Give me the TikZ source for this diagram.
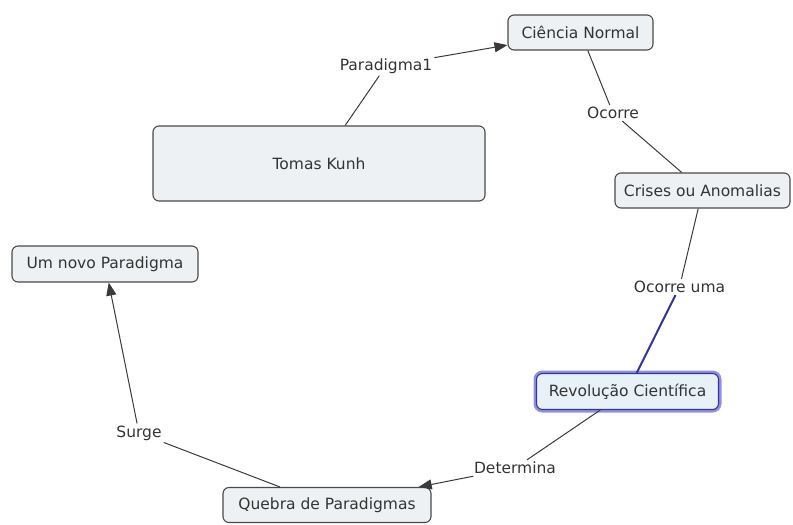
\documentclass[tikz,border=0pt]{standalone}
\usepackage{fontspec}
\setmainfont{DejaVu Sans}
\usepackage{tikz}
\usetikzlibrary{arrows.meta}
\definecolor{conceptfill}{HTML}{EDF1F3}
\definecolor{conceptline}{HTML}{4A4A4A}
\definecolor{textgray}{HTML}{333333}
\definecolor{linkline}{HTML}{3A3A3A}
\definecolor{selblue}{HTML}{34349A}
\definecolor{selglow}{HTML}{9090E0}
\definecolor{selfill}{HTML}{E8F1F8}
\newcommand{\cmapfont}{\fontsize{15.5}{18}\selectfont}
\tikzset{
  concept/.style={rectangle, rounded corners=6pt, draw=conceptline, line width=1.1pt,
    fill=conceptfill, text=textgray, minimum height=35pt, inner xsep=8pt, font=\cmapfont},
  selected/.style={concept, draw=selblue, fill=selfill, preaction={draw=selglow, line width=6pt}},
  phrase/.style={inner sep=2pt, text=textgray, font=\cmapfont},
  link/.style={draw=linkline, line width=1pt},
  tip/.style={-{Triangle[length=13pt,width=10pt]}}
}

\begin{document}
\begin{tikzpicture}[x=1pt,y=-1pt]
    \useasboundingbox (0,0) rectangle (793,525);
    \node (kuhn)      at (319,163.5)   [concept, minimum width=332pt, minimum height=75pt] {Tomas Kunh};
    \node (normal)    at (580.5,32.5)  [concept, minimum width=145pt] {Ciência Normal};
    \node (crises)    at (702.5,190.5) [concept, minimum width=175pt] {Crises ou Anomalias};
    \node (revolucao) at (627.5,391.5) [selected, minimum width=182pt, minimum height=36pt] {Revolução Científica};
    \node (quebra)    at (327,505)     [concept, minimum width=208pt] {Quebra de Paradigmas};
    \node (novo)      at (105,264)     [concept, minimum width=186pt, minimum height=36pt] {Um novo Paradigma};

    \node (paradigma) at (386,66)    [phrase] {Paradigma1};
    \node (ocorre)    at (613,113)   [phrase] {Ocorre};
    \node (ocorreuma) at (679.5,287) [phrase] {Ocorre uma};
    \node (determina) at (515,468)   [phrase] {Determina};
    \node (surge)     at (139,433)   [phrase] {Surge};

    \draw[link] (kuhn) -- (paradigma);
    \draw[link, tip] (paradigma) -- (normal);
    \draw[link] (normal) -- (ocorre);
    \draw[link] (ocorre) -- (crises);
    \draw[link] (crises) -- (ocorreuma);
    \draw[link, draw=selblue, line width=2pt] (ocorreuma) -- (revolucao);
    \draw[link] (revolucao) -- (determina);
    \draw[link, tip] (determina) -- (quebra);
    \draw[link] (quebra) -- (surge);
    \draw[link, tip] (surge) -- (novo);
\end{tikzpicture}
\end{document}
